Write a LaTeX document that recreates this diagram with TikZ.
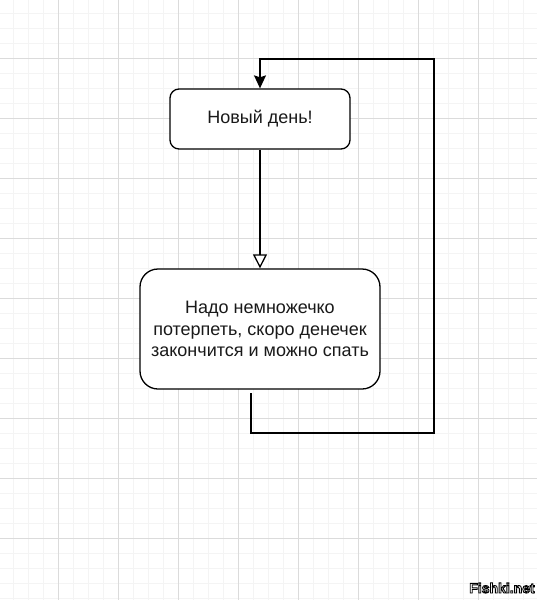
\documentclass[tikz,border=0pt]{standalone}
\usepackage{fontspec}
\newfontfamily\boxfont{Liberation Sans}
\usetikzlibrary{positioning,arrows.meta}
\newcommand\outlinedtext[1]{\special{pdf:literal direct 2 Tr 0.9 w 0 G 1 g}#1\special{pdf:literal direct 0 Tr}}

\begin{document}
\begin{tikzpicture}[
  x=1pt,y=-1pt,
  font=\boxfont\fontsize{18}{21.6}\selectfont,
  minorline/.style={draw=gray!9,line width=1pt},
  majorline/.style={draw=gray!28,line width=0.8pt},
  stepbox/.style={draw,line width=1.3pt,fill=white,align=center,text=black!90},
  flow/.style={line width=1.3pt,-{Triangle[open,length=14pt,width=14pt,fill=white]}},
  loopback/.style={line width=1.3pt,-{Stealth[length=13pt,width=12pt,inset=2pt]}},
  mark text/.style={font=\boxfont\bfseries\fontsize{14}{14}\selectfont,inner sep=0pt},
]
\useasboundingbox (0,0) rectangle (537,600);
\fill[white] (0,0) rectangle (537,600);

% background grid
\foreach \i in {0,...,35} {
  \draw[minorline] (13.5+15*\i,0) -- (13.5+15*\i,600);
}
\foreach \i in {0,...,39} {
  \draw[minorline] (0,13.5+15*\i) -- (537,13.5+15*\i);
}
\foreach \i in {0,...,8} {
  \draw[majorline] (58.5+60*\i,0) -- (58.5+60*\i,600);
  \draw[majorline] (0,58.5+60*\i) -- (537,58.5+60*\i);
}

% steps
\node[stepbox,rounded corners=9pt,minimum width=180pt,minimum height=60pt] (day) at (260,119) {Новый день!};
\node[stepbox,rounded corners=18pt,minimum width=240pt,minimum height=120pt] (wait) at (260,329)
  {Надо немножечко\\потерпеть, скоро денечек\\закончится и можно спать};

% connectors
\draw[flow] (day) -- (wait);

\coordinate (out)  at (251,393);
\coordinate (turn) at (434,433);
\coordinate (back) at (260,59);
\draw[loopback] (out) |- (turn) |- (back) -- (day.north);

% watermark
\node[mark text] (wm) at (502,588) {\outlinedtext{Fishki.net}};
\end{tikzpicture}
\end{document}
